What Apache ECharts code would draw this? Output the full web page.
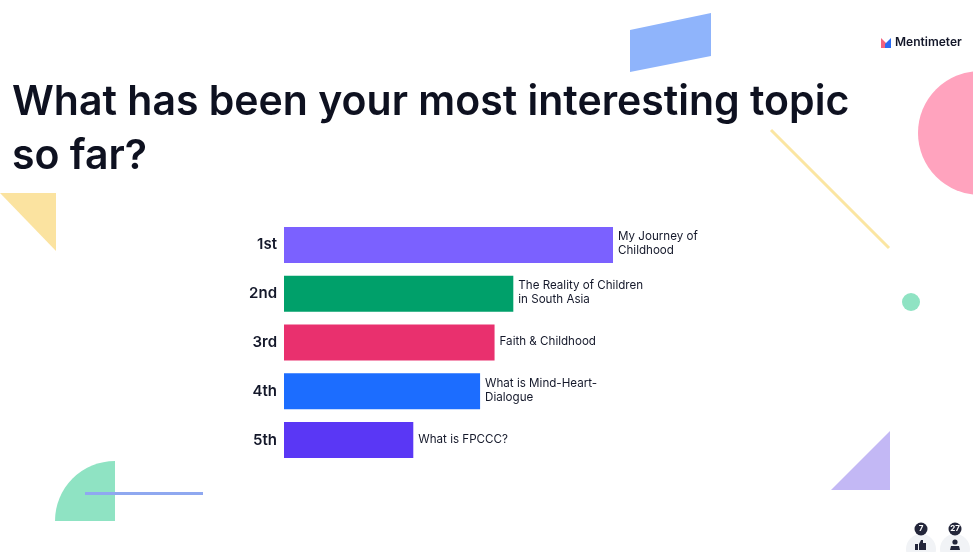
<!DOCTYPE html>
<html>
<head>
<meta charset="utf-8">
<style>
  html, body { margin: 0; padding: 0; background: #fff; }
  #chart { width: 973px; height: 552px; }
</style>
<script src="https://cdn.jsdelivr.net/npm/echarts@6/dist/echarts.min.js"></script>
</head>
<body>
<div id="chart"></div>
<script>
// Ranked results of the audience question
const ranks = ['1st', '2nd', '3rd', '4th', '5th'];
const topics = [
  'My Journey of\nChildhood',
  'The Reality of Children\nin South Asia',
  'Faith & Childhood',
  'What is Mind-Heart-\nDialogue',
  'What is FPCCC?'
];
const scores = [100, 69.7, 64.0, 59.6, 39.3];
const barColors = ['#7B61FF', '#00A06A', '#E9306E', '#1C6DFF', '#5A37F5'];

const FONT = 'Inter, "Noto Sans", sans-serif';
const chart = echarts.init(document.getElementById('chart'), null, { renderer: 'canvas' });

chart.setOption({
  backgroundColor: '#ffffff',
  animation: false,
  title: {
    text: 'What has been your most interesting topic\nso far?',
    left: 7,
    top: 71,
    textStyle: {
      fontFamily: FONT,
      fontSize: 41,
      fontWeight: 600,
      color: '#0E1120',
      lineHeight: 54
    }
  },
  grid: { left: 284, top: 220.6, width: 329, height: 243.8 },
  xAxis: { type: 'value', min: 0, max: 100, show: false },
  yAxis: {
    type: 'category',
    inverse: true,
    data: ranks,
    axisLine: { show: false },
    axisTick: { show: false },
    axisLabel: {
      margin: 7,
      padding: [2, 0, 0, 0],
      fontFamily: FONT,
      fontSize: 15,
      fontWeight: 600,
      color: '#14182A'
    }
  },
  series: [{
    type: 'bar',
    barWidth: 36,
    data: scores.map((v, i) => ({
      value: v,
      itemStyle: { color: barColors[i] },
      label: { formatter: topics[i] }
    })),
    label: {
      show: true,
      position: 'right',
      distance: 5,
      offset: [0, -1],
      align: 'left',
      fontFamily: FONT,
      fontSize: 11.6,
      lineHeight: 14,
      color: '#14182A'
    }
  }],
  // Decorative shapes, brand mark and the vote / participant counters
  graphic: [
    { type: 'polygon', shape: { points: [[630, 30], [711, 13], [711, 56], [630, 72]] }, style: { fill: '#8FB4FB' } },
    { type: 'circle', shape: { cx: 980, cy: 133, r: 62 }, style: { fill: '#FFA3BE' } },
    { type: 'line', shape: { x1: 771, y1: 130, x2: 889, y2: 248 }, style: { stroke: '#FBE6A2', lineWidth: 3 } },
    { type: 'circle', shape: { cx: 911, cy: 302, r: 9 }, style: { fill: '#8FE3C3' } },
    { type: 'polygon', shape: { points: [[831, 490], [890, 431], [890, 490]] }, style: { fill: '#C3B8F5' } },
    { type: 'polygon', shape: { points: [[0, 193], [56, 193], [56, 251]] }, style: { fill: '#FBE3A0' } },
    { type: 'sector', shape: { cx: 115, cy: 521, r0: 0, r: 60, startAngle: Math.PI, endAngle: Math.PI * 1.5 }, style: { fill: '#8FE3C3' } },
    { type: 'line', shape: { x1: 85, y1: 493.5, x2: 203, y2: 493.5 }, style: { stroke: '#8FA8F0', lineWidth: 3 } },

    { type: 'polygon', shape: { points: [[881, 38], [886, 43], [886, 48], [881, 48]] }, style: { fill: '#F2637E' } },
    { type: 'polygon', shape: { points: [[885, 44], [891, 38], [891, 48], [885, 48]] }, style: { fill: '#2A6BF2' } },
    { type: 'text', x: 895, y: 36, style: { text: 'Mentimeter', fontFamily: FONT, fontSize: 12, fontWeight: 600, fill: '#14182A' } },

    { type: 'circle', shape: { cx: 921, cy: 549, r: 15 }, style: { fill: '#F1F3F6' } },
    { type: 'circle', shape: { cx: 955, cy: 549, r: 15 }, style: { fill: '#F1F3F6' } },
    { type: 'circle', shape: { cx: 921, cy: 529, r: 6.5 }, style: { fill: '#23263A' } },
    { type: 'circle', shape: { cx: 955, cy: 529, r: 6.5 }, style: { fill: '#23263A' } },
    { type: 'text', x: 921, y: 529, style: { text: '7', align: 'center', verticalAlign: 'middle', fontFamily: FONT, fontSize: 8, fontWeight: 700, fill: '#fff' } },
    { type: 'text', x: 955, y: 529, style: { text: '27', align: 'center', verticalAlign: 'middle', fontFamily: FONT, fontSize: 8, fontWeight: 700, fill: '#fff' } },
    // thumbs-up glyph
    { type: 'rect', shape: { x: 915, y: 544, width: 3, height: 6 }, style: { fill: '#23263A' } },
    { type: 'polygon', shape: { points: [[919, 544], [921, 540], [923, 540], [923, 543], [926, 543], [926, 550], [919, 550]] }, style: { fill: '#23263A' } },
    // person glyph
    { type: 'circle', shape: { cx: 955, cy: 542, r: 2.6 }, style: { fill: '#23263A' } },
    { type: 'polygon', shape: { points: [[950, 550], [951, 546], [959, 546], [960, 550]] }, style: { fill: '#23263A' } }
  ]
});
</script>
</body>
</html>
